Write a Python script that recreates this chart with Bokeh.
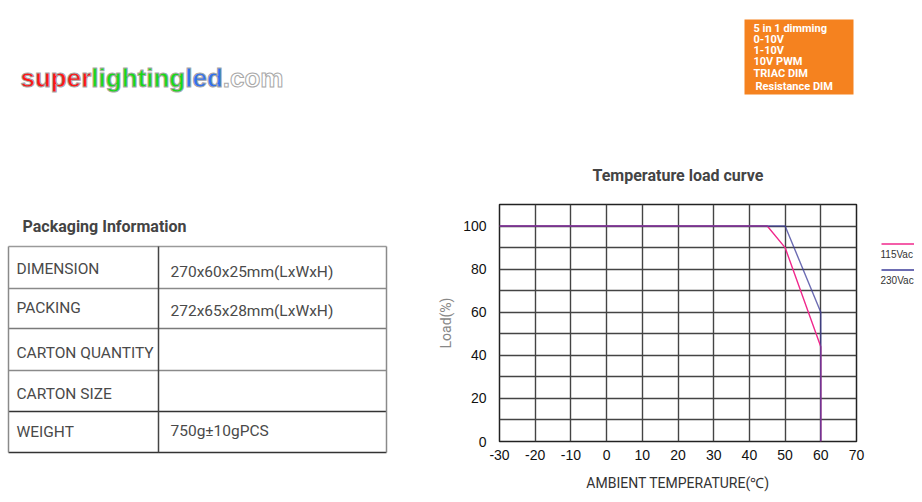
from bokeh.plotting import figure
from bokeh.layouts import row, column
from bokeh.models import Range1d, FixedTicker
from bokeh.core.properties import value
from bokeh.embed import file_html
from bokeh.resources import INLINE

# ---------------- data ----------------
temp_115 = [-30, 45, 50, 60, 60]
load_115 = [100, 100, 90, 44, 0]
temp_230 = [-30, 50, 60, 60]
load_230 = [100, 100, 60, 0]
series_names = ["115Vac", "230Vac"]
series_colors = ["#f0288c", "#3c3c9a"]

x_ticks = [-30, -20, -10, 0, 10, 20, 30, 40, 50, 60, 70]
x_tick_labels = ["-30", "-20", "-10", "0", "10", "20", "30", "40", "50", "60", "70"]
y_ticks = [0, 20, 40, 60, 80, 100]
y_tick_labels = ["0", "20", "40", "60", "80", "100"]
y_minor_ticks = [10, 30, 50, 70, 90, 110]

table_keys = ["DIMENSION", "PACKING", "CARTON QUANTITY", "CARTON SIZE", "WEIGHT"]
table_values = ["270x60x25mm(LxWxH)", "272x65x28mm(LxWxH)", "", "", "750g±10gPCS"]
dimming_modes = ["5 in 1 dimming", "0-10V", "1-10V", "10V PWM", "TRIAC DIM", "Resistance DIM"]
logo_parts = ["super", "lighting", "led", ".com"]
logo_colors = ["#ff1515", "#18d818", "#3070f0", "#ffffff"]

TXT = "#4a4a4a"


def blank(w, h, xr, yr, **kw):
    opts = dict(min_border=0)
    opts.update(kw)
    f = figure(width=w, height=h, x_range=Range1d(*xr), y_range=Range1d(*yr),
               output_backend="svg", toolbar_location=None,
               x_axis_location=None, y_axis_location=None,
               outline_line_color=None, background_fill_color="white",
               border_fill_color="white", **opts)
    f.grid.visible = False
    return f


# ---------------- left panel: logo + table ----------------
left = blank(422, 494, (0, 422), (494, 0))

# logo
logo_x = [20, 90.8, 184.7, 222.3]
left.text(x=logo_x, y=[77] * 4, text=logo_parts, text_color=logo_colors,
          text_font=value("Liberation Sans"),
          text_font_style="bold", text_font_size="26px",
          text_baseline="alphabetic", text_align="left",
          text_outline_color="#a8a8a8")

left.text(x=[22], y=[226], text=["Packaging Information"], text_color="#444444",
          text_font=value("Roboto"), text_font_style="bold", text_font_size="16px",
          text_baseline="middle", text_align="left")

row_y = [246, 288, 328, 370, 411, 452]
h_cols = ["#9a9a9a", "#8a8a8a", "#7a7a7a", "#8a8a8a", "#333333", "#333333"]
left.segment(x0=[8] * 6, y0=row_y, x1=[386] * 6, y1=row_y, line_color=h_cols, line_width=1.5)
left.segment(x0=[8, 158, 386], y0=[246] * 3, x1=[8, 158, 386], y1=[452] * 3,
             line_color=["#8a8a8a", "#444444", "#8a8a8a"], line_width=1.5)

key_y = [268.5, 307.5, 352.5, 393, 431.5]
val_y = [271, 310, 352.5, 393, 430]
left.text(x=[16] * 5, y=key_y, text=table_keys, text_color=TXT,
          text_font=value("Roboto"), text_font_size="15.5px",
          text_baseline="middle", text_align="left")
left.text(x=[170] * 5, y=val_y, text=table_values, text_color=TXT,
          text_font=value("Roboto"), text_font_size="15.5px",
          text_baseline="middle", text_align="left")

# ---------------- top right: orange box ----------------
top = blank(492, 143, (422, 914), (143, 0))
top.quad(left=[744], right=[853], top=[19], bottom=[94], fill_color="#f5821f", line_color=None)
top.text(x=[753, 753, 753, 753, 753, 755], y=[27.5, 39, 49.5, 60.5, 73, 86],
         text=dimming_modes, text_color="white", text_font=value("Roboto"),
         text_font_style="bold", text_font_size="11px",
         text_baseline="middle", text_align="left")

# ---------------- chart ----------------
p = figure(width=452, height=351, x_range=Range1d(-30, 70), y_range=Range1d(0, 110),
           output_backend="svg", toolbar_location=None,
           min_border_left=77, min_border_right=18, min_border_top=61, min_border_bottom=53,
           title="Temperature load curve", background_fill_color="white",
           border_fill_color="white")
p.title.align = "center"
p.title.text_font = "Roboto"
p.title.text_font_size = "16px"
p.title.text_font_style = "bold"
p.title.text_color = "#444444"
p.title.standoff = 40

xt = FixedTicker(ticks=x_ticks)
yt = FixedTicker(ticks=y_ticks, minor_ticks=y_minor_ticks)
p.xaxis.ticker = xt
p.yaxis.ticker = yt
p.xgrid.ticker = xt
p.ygrid.ticker = yt
p.xaxis.major_label_overrides = dict(zip(x_ticks, x_tick_labels))
p.yaxis.major_label_overrides = dict(zip(y_ticks, y_tick_labels))

for ax in (p.xaxis[0], p.yaxis[0]):
    ax.axis_line_color = None
    ax.major_tick_line_color = None
    ax.minor_tick_line_color = None
    ax.major_label_text_font = "Liberation Sans"
    ax.major_label_text_font_size = "14px"
    ax.major_label_text_color = "#111111"
    ax.axis_label_text_font = "Roboto"
    ax.axis_label_text_font_style = "normal"
    ax.axis_label_text_font_size = "14px"

p.xaxis.axis_label = "AMBIENT TEMPERATURE(℃)"
p.xaxis.axis_label_text_color = "#333333"
p.xaxis.major_label_standoff = 2
p.xaxis.axis_label_standoff = 12
p.yaxis.axis_label = "Load(%)"
p.yaxis.axis_label_text_color = "#888888"
p.yaxis.major_label_standoff = 7
p.yaxis.axis_label_standoff = 6

p.xgrid.grid_line_color = "#444444"
p.xgrid.grid_line_width = 1.4
p.ygrid.grid_line_color = "#444444"
p.ygrid.grid_line_width = 1.4
p.ygrid.minor_grid_line_color = "#444444"
p.ygrid.minor_grid_line_width = 1.4
p.outline_line_color = "#222222"
p.outline_line_width = 1.5

p.line(temp_115, load_115, line_color=series_colors[0], line_width=1.4)
p.line(temp_230, load_230, line_color=series_colors[1], line_width=1.4, line_alpha=0.75)

# ---------------- legend strip (frame aligned with chart frame) ----------------
lg = blank(40, 351, (874, 914), (441, 204), min_border_top=61, min_border_bottom=53)
lg.segment(x0=[881, 881], y0=[243.5, 269.5], x1=[914, 914], y1=[243.5, 269.5],
           line_color=series_colors, line_width=1.4)
lg.text(x=[880, 880], y=[253.5, 279.5], text=series_names, text_color="#333333",
        text_font=value("Liberation Sans"), text_font_size="10px",
        text_baseline="middle", text_align="left")

layout = row(left, column(top, row(p, lg, spacing=0), spacing=0), spacing=0)

open("out.html", "w").write(file_html(layout, INLINE))
